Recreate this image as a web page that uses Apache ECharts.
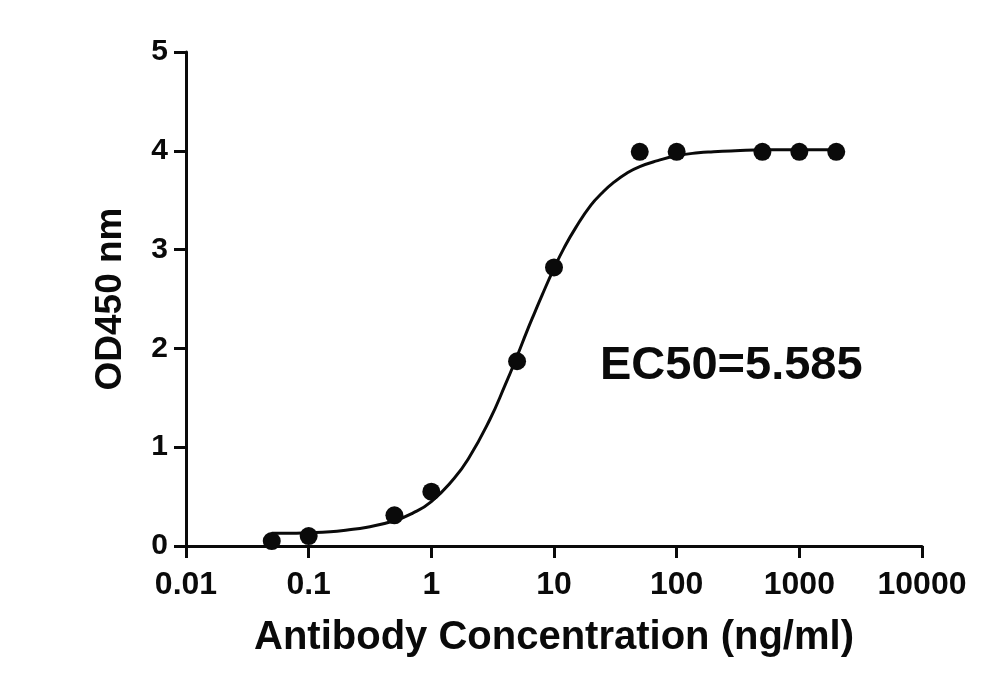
<!DOCTYPE html>
<html>
<head>
<meta charset="utf-8">
<script src="https://cdn.jsdelivr.net/npm/echarts@6/dist/echarts.min.js"></script>
<style>
  html, body { margin: 0; padding: 0; background: #fff; }
  #chart { width: 997px; height: 684px; }
</style>
</head>
<body>
<div id="chart"></div>
<script>
// measured points (concentration in ng/ml, OD450)
const concentrations = [0.05, 0.1, 0.5, 1, 5, 10, 50, 100, 500, 1000, 2000];
const odValues = [0.05, 0.10, 0.31, 0.55, 1.87, 2.82, 3.99, 3.99, 3.99, 3.99, 3.99];

// fitted curve
const curveX = [0.05, 0.07, 0.1, 0.15, 0.2, 0.3, 0.5, 0.7, 1, 1.5, 2, 3, 4, 5, 6, 7, 8, 10,
  12, 15, 20, 25, 30, 40, 50, 70, 100, 150, 200, 300, 500, 1000, 2000];
const curveY = [0.13, 0.13, 0.135, 0.145, 0.16, 0.19, 0.255, 0.33, 0.45, 0.67, 0.88, 1.28, 1.63,
  1.92, 2.17, 2.37, 2.54, 2.81, 3.01, 3.22, 3.45, 3.58, 3.67, 3.78, 3.84, 3.90, 3.95, 3.98,
  3.99, 4.0, 4.01, 4.01, 4.01];

const xTicks = ['0.01', '0.1', '1', '10', '100', '1000', '10000'];
const yTicks = ['0', '1', '2', '3', '4', '5'];
const ec50Label = 'EC50=5.585';

const font = '"Liberation Sans", Arial, sans-serif';
const ink = '#0a0a0a';

const chart = echarts.init(document.getElementById('chart'));

chart.setOption({
  animation: false,
  backgroundColor: '#fff',
  grid: { left: 186, right: 75, top: 52, bottom: 138 },
  xAxis: {
    type: 'log',
    logBase: 10,
    min: 0.01,
    max: 10000,
    name: 'Antibody Concentration (ng/ml)',
    nameLocation: 'middle',
    nameGap: 72,
    nameTextStyle: { color: ink, fontFamily: font, fontWeight: 'bold', fontSize: 40 },
    axisLine: { lineStyle: { color: ink, width: 3 } },
    axisTick: { length: 12, lineStyle: { color: ink, width: 3 } },
    axisLabel: {
      color: ink, fontFamily: font, fontWeight: 'bold', fontSize: 32, margin: 23,
      formatter: (v) => {
        const i = Math.round(Math.log10(v)) + 2;
        return xTicks[i] !== undefined ? xTicks[i] : '';
      }
    },
    splitLine: { show: false }
  },
  yAxis: {
    type: 'value',
    min: 0,
    max: 5,
    interval: 1,
    name: 'OD450 nm',
    nameLocation: 'middle',
    nameGap: 57,
    nameTextStyle: { color: ink, fontFamily: font, fontWeight: 'bold', fontSize: 37 },
    axisLine: { show: true, lineStyle: { color: ink, width: 3 } },
    axisTick: { show: true, length: 12, lineStyle: { color: ink, width: 3 } },
    axisLabel: {
      color: ink, fontFamily: font, fontWeight: 'bold', fontSize: 30, margin: 18,
      formatter: (v) => yTicks[Math.round(v)]
    },
    splitLine: { show: false }
  },
  graphic: [{
    type: 'text',
    left: 600,
    top: 343,
    style: { text: ec50Label, fill: ink, font: 'bold 47px ' + font }
  }],
  series: [
    {
      type: 'line',
      data: curveX.map((x, i) => [x, curveY[i]]),
      showSymbol: false,
      smooth: true,
      lineStyle: { color: ink, width: 3 },
      z: 2
    },
    {
      type: 'scatter',
      data: concentrations.map((x, i) => [x, odValues[i]]),
      symbol: 'circle',
      symbolSize: 18,
      itemStyle: { color: ink, opacity: 1 },
      z: 3
    }
  ]
});
</script>
</body>
</html>
